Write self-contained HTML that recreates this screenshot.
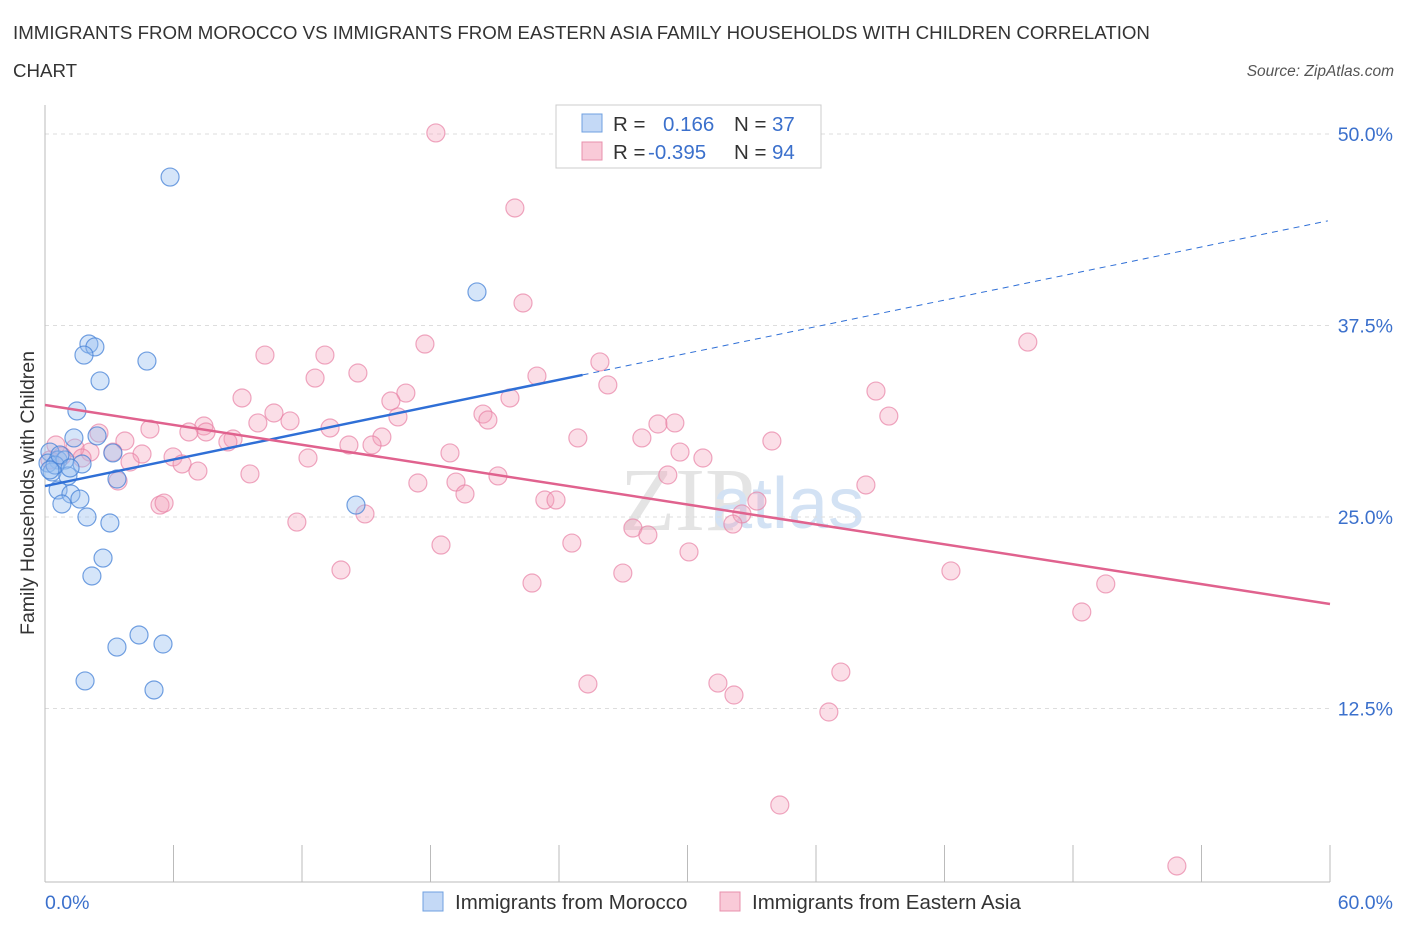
<!DOCTYPE html>
<html><head><meta charset="utf-8"><style>
body{margin:0;background:#fff;font-family:"Liberation Sans",sans-serif}
</style></head><body>
<svg id="c" width="1406" height="930" xmlns="http://www.w3.org/2000/svg">
<text x="13" y="39" font-size="18.7" fill="#333">IMMIGRANTS FROM MOROCCO VS IMMIGRANTS FROM EASTERN ASIA FAMILY HOUSEHOLDS WITH CHILDREN CORRELATION</text>
<text x="13" y="77" font-size="18.7" fill="#333">CHART</text>
<text x="1394" y="76" font-size="15.5" fill="#555" font-style="italic" text-anchor="end">Source: ZipAtlas.com</text>
<text x="620" y="530" font-size="90" fill="#e4e4e4" font-family="Liberation Serif">ZIP</text>
<text x="712" y="528" font-size="72" fill="#d3e2f4">atlas</text>
<g id="grid"></g><g id="axes"></g><g id="pts"></g><g id="trend"></g>
<g>
<rect x="556" y="105" width="265" height="63" fill="#fff" stroke="#ccc"/>
<rect x="582" y="114" width="20" height="18" fill="#c4d9f6" stroke="#6fa0e0"/>
<rect x="582" y="142" width="20" height="18" fill="#f9cad8" stroke="#e890ac"/>
<text x="613" y="131" font-size="20.5" fill="#333">R = </text><text x="663" y="131" font-size="20.5" fill="#3b70cc">0.166</text>
<text x="734" y="131" font-size="20.5" fill="#333">N = </text><text x="772" y="131" font-size="20.5" fill="#3b70cc">37</text>
<text x="613" y="159" font-size="20.5" fill="#333">R = </text><text x="648" y="159" font-size="20.5" fill="#3b70cc">-0.395</text>
<text x="734" y="159" font-size="20.5" fill="#333">N = </text><text x="772" y="159" font-size="20.5" fill="#3b70cc">94</text>
</g>
<g>
<rect x="423" y="892" width="20" height="19" fill="#c4d9f6" stroke="#6fa0e0"/>
<text x="455" y="909" font-size="20.5" fill="#333">Immigrants from Morocco</text>
<rect x="720" y="892" width="20" height="19" fill="#f9cad8" stroke="#e890ac"/>
<text x="752" y="909" font-size="20.5" fill="#333">Immigrants from Eastern Asia</text>
</g>
<text transform="translate(34,493) rotate(-90)" font-size="19.5" fill="#333" text-anchor="middle">Family Households with Children</text>
</svg>
<script>
const yTicks=[50,37.5,25,12.5];
const yTickLabels=["50.0%","37.5%","25.0%","12.5%"];
const xTicks=[0,6,12,18,24,30,36,42,48,54,60];
const xEndLabels=["0.0%","60.0%"];
const moroccoX=[5.84,20.17,2.05,2.33,1.82,4.76,2.57,1.49,2.43,1.35,3.17,0.23,0.61,0.14,0.93,1.73,0.33,1.07,3.36,0.61,1.21,1.63,0.79,14.52,1.96,3.03,2.71,2.19,4.39,3.36,5.51,1.87,5.09,0.47,0.70,0.23,1.17];
const moroccoY=[47.19,39.69,36.29,36.10,35.57,35.18,33.88,31.92,30.29,30.16,29.18,29.24,28.72,28.52,28.72,28.46,27.94,27.68,27.48,26.76,26.50,26.17,25.85,25.78,25.00,24.61,22.32,21.15,17.30,16.51,16.71,14.30,13.71,28.39,29.05,28.07,28.20];
const asiaX=[18.25,21.94,22.32,45.89,17.74,10.27,13.07,25.91,14.61,12.61,22.97,26.28,38.80,16.85,9.20,16.15,21.71,39.40,10.69,20.45,20.68,16.48,11.44,13.31,7.42,9.94,4.90,6.72,7.52,8.78,8.54,15.73,24.88,27.87,28.62,29.41,33.94,3.73,2.52,14.19,15.27,18.91,29.65,30.72,12.28,4.53,5.98,6.40,7.14,3.97,3.17,2.10,1.40,0.51,0.79,0.23,1.73,9.57,21.15,29.08,19.19,17.41,38.33,19.61,23.34,23.86,33.24,3.41,5.37,5.56,14.94,32.54,32.12,11.76,27.45,28.15,24.60,18.49,30.07,13.82,26.98,42.30,22.74,49.53,48.41,37.16,25.35,31.42,32.17,36.60,34.31,52.85];
const asiaY=[50.07,45.17,38.97,36.42,36.29,35.57,35.57,35.12,34.40,34.07,34.20,33.62,33.22,33.09,32.77,32.57,32.77,31.59,31.79,31.72,31.33,31.53,31.27,30.81,30.94,31.14,30.74,30.55,30.55,30.09,29.90,30.22,30.16,30.16,31.07,31.14,29.96,29.96,30.48,29.70,29.70,29.18,29.24,28.85,28.85,29.11,28.92,28.46,28.00,28.59,29.24,29.24,29.50,29.70,28.98,28.72,28.85,27.81,27.68,27.74,27.28,27.22,27.09,26.50,26.11,26.11,26.04,27.35,25.78,25.91,25.20,25.20,24.54,24.67,24.28,23.83,23.30,23.17,22.72,21.54,21.34,21.48,20.69,20.63,18.80,14.88,14.10,14.16,13.38,12.27,6.20,2.22];
const moroccoTrend=[27.02,0.289];
const asiaTrend=[32.31,-0.2165];
const NS="http://www.w3.org/2000/svg";
const sx=v=>45+v*1285/60, sy=v=>900-v*15.32;
function mk(t,a,p){const e=document.createElementNS(NS,t);for(const k in a)e.setAttribute(k,a[k]);document.getElementById(p).appendChild(e);return e;}
yTicks.forEach((t,i)=>{
 const l=mk('line',{x1:45,x2:1330,y1:sy(t),y2:sy(t),stroke:'#ddd','stroke-dasharray':'4,4'},'grid');
 
 
 const tx=mk('text',{x:1393,y:sy(t)+7,'font-size':19.5,fill:'#3b70cc','text-anchor':'end'},'axes');
 tx.textContent=yTickLabels[i];
 
 
});
const ax=mk('line',{x1:45,x2:1330,y1:882,y2:882,stroke:'#bbb'},'axes');


const ay=mk('line',{x1:45,x2:45,y1:105,y2:882,stroke:'#bbb'},'axes');


xTicks.forEach(t=>{
 const l=mk('line',{x1:sx(t),x2:sx(t),y1:845,y2:882,stroke:'#bbb'},'axes');
 
 
});
[[0,'start',45],[60,'end',1393]].forEach((d,i)=>{
 const tx=mk('text',{x:d[2],y:909,'font-size':19.5,fill:'#3b70cc','text-anchor':d[1]},'axes');
 tx.textContent=xEndLabels[i];
 
 
});
asiaX.forEach((x,i)=>{
 const c=mk('circle',{cx:sx(x),cy:sy(asiaY[i]),r:9,fill:'rgba(244,160,186,0.35)',stroke:'rgba(232,130,165,0.7)','stroke-width':1.2},'pts');
 
 
});
moroccoX.forEach((x,i)=>{
 const c=mk('circle',{cx:sx(x),cy:sy(moroccoY[i]),r:9,fill:'rgba(150,190,240,0.4)',stroke:'rgba(70,130,215,0.75)','stroke-width':1.2},'pts');
 
 
});
const f=(tr,x)=>tr[0]+tr[1]*x;
const t1=mk('line',{x1:sx(0),y1:sy(f(moroccoTrend,0)),x2:sx(25.1),y2:sy(f(moroccoTrend,25.1)),stroke:'#2f6fd6','stroke-width':2.5},'trend');


const t2=mk('line',{x1:sx(25.1),y1:sy(f(moroccoTrend,25.1)),x2:sx(59.9),y2:sy(f(moroccoTrend,59.9)),stroke:'#2f6fd6','stroke-width':1,'stroke-dasharray':'6,5'},'trend');


const t3=mk('line',{x1:sx(0),y1:sy(f(asiaTrend,0)),x2:sx(60),y2:sy(f(asiaTrend,60)),stroke:'#e0628e','stroke-width':2.5},'trend');


</script>
</body></html>
